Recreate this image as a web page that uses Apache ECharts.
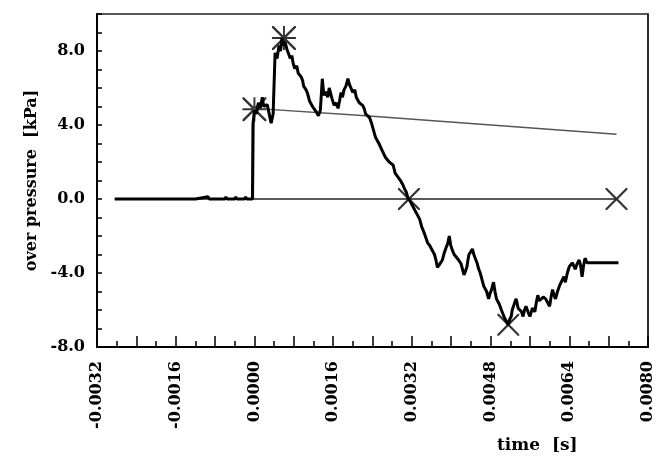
<!DOCTYPE html>
<html>
<head>
<meta charset="utf-8">
<script src="https://cdn.jsdelivr.net/npm/echarts@6/dist/echarts.min.js"></script>
<style>html,body{margin:0;padding:0;background:#fff;}#c{width:656px;height:457px;}</style>
</head>
<body>
<div id="c"></div>
<script>
// time [s], over pressure [kPa]
const measured = [
  [-0.00284,0],[-0.0012,0],[-0.00094,0.12],[-0.00092,0],[-0.0006,0],[-0.00058,0.12],[-0.00056,0],
  [-0.0004,0],[-0.00038,0.12],[-0.00036,0],[-0.0002,0],[-0.00018,0.12],[-0.00016,0],[-0.00004,0],
  [-0.00003,4.0],[0,4.8],[0.00004,4.6],[0.00008,5.2],[0.00012,4.9],[0.00016,5.5],[0.00019,5.0],[0.00022,4.9],[0.00026,5.1],[0.0003,4.6],
  [0.00034,4.1],[0.00038,4.6],[0.0004,4.5],[0.00042,7.9],[0.00046,7.6],[0.0005,8.3],[0.00053,8.0],[0.00056,8.7],[0.00059,8.3],[0.00062,8.5],
  [0.00066,8.1],[0.0007,8.0],[0.00073,7.6],[0.00076,7.75],[0.00079,7.3],[0.00082,7.05],[0.00086,7.2],[0.00089,6.8],[0.00092,6.7],[0.00095,6.6],[0.00098,6.4],[0.001,6.1],[0.00102,6.0],
  [0.00105,5.9],[0.00108,5.7],[0.0011,5.5],[0.00112,5.3],[0.00115,5.35],[0.00118,5.0],[0.00122,4.95],[0.00126,4.7],[0.0013,4.5],[0.00134,4.8],[0.00138,6.5],[0.0014,5.9],[0.00142,5.6],
  [0.00146,5.8],[0.00149,5.5],[0.00152,6.0],[0.00155,5.7],[0.00158,5.4],[0.00162,5.06],[0.00166,5.2],[0.0017,4.9],[0.00173,5.3],[0.00176,5.76],[0.00179,5.5],[0.00182,5.9],
  [0.00186,6.1],[0.0019,6.5],[0.00193,6.2],[0.00196,6.1],[0.002,5.76],[0.00204,5.9],[0.00207,5.5],[0.0021,5.6],[0.00213,5.2],[0.00216,5.3],[0.0022,5.06],[0.00223,4.9],[0.00226,4.6],
  [0.0023,4.5],[0.00234,4.4],[0.00238,4.1],[0.00242,4.0],[0.00246,3.34],[0.0025,3.3],[0.00253,3.0],[0.00256,2.9],[0.0026,2.6],[0.00263,2.55],[0.00266,2.26],[0.0027,2.2],[0.00274,2.0],[0.00278,1.95],[0.00282,1.83],
  [0.00286,1.4],[0.0029,1.35],[0.00294,1.1],[0.00298,0.95],[0.00302,0.75],[0.00306,0.5],[0.00309,0.35],[0.00312,0.05],[0.00316,-0.1],[0.0032,-0.3],[0.00323,-0.35],[0.00326,-0.6],[0.00332,-0.9],[0.00336,-1.1],[0.0034,-1.5],
  [0.00343,-1.6],[0.00346,-1.9],[0.00349,-2.0],[0.00352,-2.37],[0.00356,-2.5],[0.0036,-2.7],[0.00363,-2.8],[0.00366,-3.0],[0.00369,-3.3],[0.00372,-3.7],[0.00376,-3.55],
  [0.00382,-3.3],[0.00386,-2.9],[0.0039,-2.6],[0.00393,-2.4],[0.00396,-2.0],[0.00399,-2.5],[0.00402,-2.75],[0.00406,-3.0],
  [0.0041,-3.1],[0.00415,-3.3],[0.0042,-3.5],[0.00423,-3.8],[0.00426,-4.1],[0.00429,-3.9],[0.00432,-3.66],[0.00434,-3.3],[0.00436,-3.0],[0.0044,-2.85],
  [0.00443,-2.7],[0.00446,-3.0],[0.0045,-3.1],[0.00453,-3.5],[0.00456,-3.8],[0.00459,-4.0],[0.00462,-4.3],[0.00466,-4.7],[0.00469,-4.8],[0.00472,-5.0],[0.00476,-5.4],
  [0.00479,-5.1],[0.00482,-4.9],[0.00486,-4.5],[0.00489,-5.0],[0.00492,-5.4],[0.00495,-5.5],[0.00498,-5.7],[0.00502,-6.0],[0.00505,-6.2],[0.00508,-6.4],[0.00512,-6.6],
  [0.00516,-6.8],[0.00519,-6.5],[0.00522,-6.35],[0.00524,-6.0],[0.00526,-5.9],[0.00529,-5.6],[0.00532,-5.4],[0.00536,-5.9],[0.0054,-5.8],[0.00543,-6.1],[0.00546,-6.35],
  [0.00549,-6.0],[0.00552,-5.8],[0.00556,-6.1],[0.0056,-6.35],[0.00565,-5.9],[0.0057,-6.1],[0.00573,-5.6],[0.00576,-5.2],[0.00579,-5.5],[0.00582,-5.6],[0.00587,-5.3],[0.00592,-5.4],
  [0.00596,-5.5],[0.006,-5.8],[0.00603,-5.3],[0.00606,-4.9],[0.00609,-5.2],[0.00612,-5.4],[0.00616,-5.0],[0.0062,-4.7],[0.00623,-4.6],[0.00626,-4.36],[0.00629,-4.2],[0.00632,-4.5],
  [0.00636,-4.0],[0.0064,-3.66],[0.00643,-3.7],[0.00646,-3.45],[0.00649,-3.6],[0.00652,-3.8],[0.00656,-3.5],[0.0066,-3.3],[0.00663,-3.6],[0.00666,-4.2],[0.00669,-3.6],[0.00672,-3.2],
  [0.00676,-3.45],[0.0074,-3.45]
];
const baseline = [[-0.00284,0],[0.00736,0]];
const decay = [[-0.00002,0],[-0.00001,4.9],[0,4.9],[0.00226,4.5],[0.00736,3.5]];
const crossPoints = [[0.00314,0],[0.00516,-6.8],[0.00736,0]];
const starPoints = [[0,4.85],[0.0006,8.7]];
const xMin = -0.0032, xMax = 0.008, xStep = 0.0008;
const yMin = -8, yMax = 10, yStep = 1;

const FONT = 'DejaVu Serif';
const crossSym = 'path://M0,0L7,0L50,43L93,0L100,0L100,7L57,50L100,93L100,100L93,100L50,57L7,100L0,100L0,93L43,50L0,7Z';
const starSym = 'path://M0,0L7,0L50,43L93,0L100,0L100,7L57,50L100,93L100,100L93,100L50,57L7,100L0,100L0,93L43,50L0,7Z' +
  'M46,0L54,0L54,46L100,46L100,54L54,54L54,100L46,100L46,54L0,54L0,46L46,46Z';

const chart = echarts.init(document.getElementById('c'), null, {renderer:'canvas'});
chart.setOption({
  animation:false,
  backgroundColor:'#fff',
  grid:{left:97,right:2,top:14,bottom:110,show:true,borderColor:'#222',borderWidth:1.5},
  xAxis:[{
    type:'value',min:xMin,max:xMax,interval:xStep,
    axisLine:{onZero:false,lineStyle:{color:'#000',width:2}},
    axisTick:{inside:true,length:11,lineStyle:{color:'#000',width:1.5}},
    minorTick:{show:true,splitNumber:2,length:6,lineStyle:{color:'#000',width:1.5}},
    splitLine:{show:false},
    axisLabel:{rotate:90,margin:14,color:'#000',fontFamily:FONT,fontWeight:'bold',fontSize:16,
      formatter:function(v){const k=Math.round((v-xMin)/xStep);return k%2===0?v.toFixed(4):'';}}
  }],
  yAxis:[{
    type:'value',min:yMin,max:yMax,interval:yStep,
    name:'over pressure  [kPa]',nameLocation:'middle',nameGap:56,
    nameTextStyle:{color:'#000',fontFamily:FONT,fontWeight:'bold',fontSize:16},
    axisLine:{onZero:false,lineStyle:{color:'#000',width:2}},
    axisTick:{inside:true,length:5,lineStyle:{color:'#000',width:1.5}},
    splitLine:{show:false},
    axisLabel:{margin:12,color:'#000',fontFamily:FONT,fontWeight:'bold',fontSize:16,
      formatter:function(v){return (Math.round(v)%4===0 && v<=8)?v.toFixed(1):'';}}
  },{
    type:'value',min:yMin,max:yMax,position:'right',
    axisLine:{show:true,onZero:false,lineStyle:{color:'#222',width:1.5}},
    axisTick:{show:false},axisLabel:{show:false},splitLine:{show:false}
  }],
  graphic:[{type:'text',left:497,top:437,style:{text:'time  [s]',fill:'#000',font:'bold 17px "DejaVu Serif"'}}],
  series:[
    {type:'line',data:baseline,showSymbol:false,lineStyle:{color:'#222',width:1.6}},
    {type:'line',data:decay,showSymbol:false,lineStyle:{color:'#555',width:1.3}},
    {type:'line',data:measured,showSymbol:false,lineStyle:{color:'#000',width:3}},
    {type:'scatter',data:crossPoints,symbol:crossSym,symbolSize:22,itemStyle:{color:'#000'}},
    {type:'scatter',data:starPoints,symbol:starSym,symbolSize:24,itemStyle:{color:'#000'}}
  ]
});
</script>
</body>
</html>
